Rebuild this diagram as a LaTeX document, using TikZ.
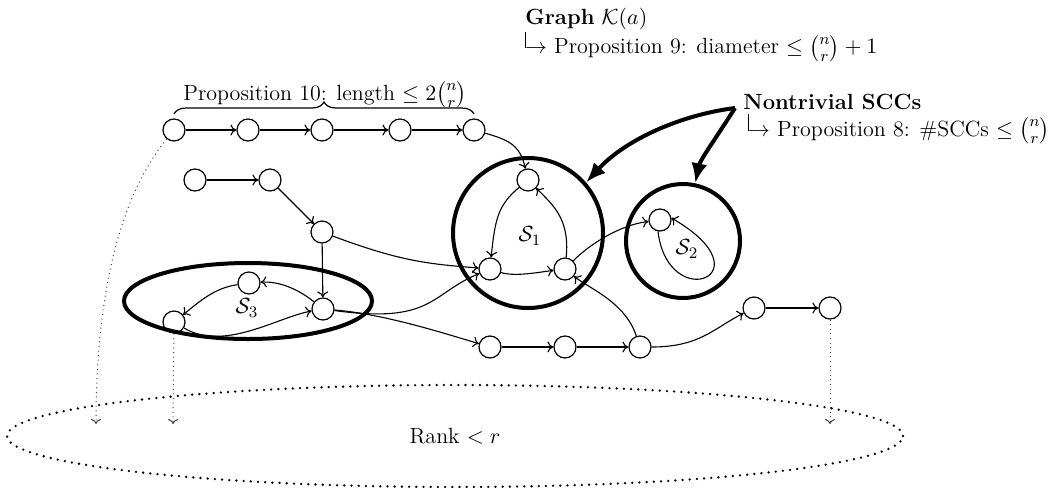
\documentclass[tikz,border=0pt]{standalone}
\usepackage{amsmath}
\usepackage{fontspec}
\usetikzlibrary{arrows.meta,decorations.pathreplacing,shapes.geometric}
\newcommand{\hk}{\rule[0.25em]{0.45pt}{0.75em}\kern-0.6pt$\rightarrow$}
\begin{document}
\begin{tikzpicture}[x=0.5pt,y=-0.5pt, font=\fontsize{11}{13}\selectfont,
 v/.style={circle,draw,line width=0.6pt,minimum size=11pt,inner sep=0pt},
 e/.style={line width=0.55pt,-{To[length=3pt,width=5.5pt]}},
 scc/.style={draw,line width=2pt,inner sep=0pt},
 proj/.style={line width=0.5pt,black!75,dash pattern=on 0.5pt off 1.8pt,-{To[length=2.5pt,width=5pt]}},
 big/.style={line width=2pt,-{Latex[length=10pt,width=8pt]}},
 txt/.style={inner sep=0pt,anchor=base west}]
\useasboundingbox (0,0) rectangle (1048,487);

% texts
\node[txt] (g) at (525,25) {\textbf{Graph} $\mathcal{K}(a)$};
\node[txt] (g2) at (525,54) {\hk\ Proposition 9: diameter $\leq\binom{n}{r}+1$};
\node[txt] (nt) at (743,109) {\textbf{Nontrivial SCCs}};
\node[txt] (nt2) at (748,136) {\hk\ Proposition 8: \#SCCs $\leq\binom{n}{r}$};
\node[inner sep=0pt,anchor=base] (p10) at (325,100) {Proposition 10: length $\leq 2\binom{n}{r}$};

% rank ellipse
\node[ellipse,draw,line width=1.3pt,dash pattern=on 0pt off 3.6pt,line cap=round,minimum width=448pt,minimum height=51pt,inner sep=0pt] (rank) at (455,436) {};
\node (rk) at (455,436) {Rank $<r$};

% SCC outlines
\node[scc,circle,minimum size=75pt] (S1) at (528,233) {};
\node[scc,circle,minimum size=57pt] (S2) at (683,241) {};
\node[scc,ellipse,minimum width=124pt,minimum height=38pt] (S3) at (248,301) {};
\node (l1) at (530,236) {$\mathcal{S}_1$};
\node (l2) at (687,249) {$\mathcal{S}_2$};
\node (l3) at (247,308) {$\mathcal{S}_3$};

% vertices
\node[v] (t1) at (174,130) {};
\node[v] (t2) at (248,130) {};
\node[v] (t3) at (322,130) {};
\node[v] (t4) at (400,130) {};
\node[v] (t5) at (474,130) {};
\node[v] (u1) at (195,180) {};
\node[v] (u2) at (270,180) {};
\node[v] (m) at (322,232) {};
\node[v] (a) at (323,309) {};
\node[v] (b) at (249,283) {};
\node[v] (c) at (174,322) {};
\node[v] (p) at (528,180) {};
\node[v] (q) at (490,269) {};
\node[v] (r) at (565,269) {};
\node[v] (s) at (660,220) {};
\node[v] (d1) at (490,347) {};
\node[v] (d2) at (565,347) {};
\node[v] (d3) at (640,347) {};
\node[v] (e1) at (754,308) {};
\node[v] (e2) at (830,308) {};

% brace
\coordinate (bl) at (174,114);
\coordinate (br) at (474,114);
\draw[line width=0.6pt,decorate,decoration={brace,amplitude=6pt}] (bl) -- (br);

% edges
\draw[e] (t1) -- (t2);
\draw[e] (t2) -- (t3);
\draw[e] (t3) -- (t4);
\draw[e] (t4) -- (t5);
\draw[e] (t5) .. controls +(35,10) and +(-8,-35) .. (p);
\draw[e] (u1) -- (u2);
\draw[e] (u2) -- (m);
\draw[e] (m) -- (a);
\draw[e] (m) .. controls +(80,30) and +(-60,-5) .. (q);
\draw[e] (a) .. controls +(-25,-20) and +(30,-2) .. (b);
\draw[e] (b) .. controls +(-35,5) and +(25,-20) .. (c);
\draw[e] (c) .. controls +(50,30) and +(-45,8) .. (a);
\draw[e] (a) .. controls +(110,15) and +(-60,25) .. (q);
\draw[e] (a) .. controls +(60,5) and +(-50,-15) .. (d1);
\draw[e] (d1) -- (d2);
\draw[e] (d2) -- (d3);
\draw[e] (d3) .. controls +(-15,-45) and +(25,20) .. (r);
\draw[e] (d3) .. controls +(60,0) and +(-40,20) .. (e1);
\draw[e] (e1) -- (e2);
\draw[e] (p) .. controls +(-30,25) and +(5,-50) .. (q);
\draw[e] (q) .. controls +(25,8) and +(-25,3) .. (r);
\draw[e] (r) .. controls +(5,-50) and +(25,25) .. (p);
\draw[e] (r) .. controls +(25,-25) and +(-40,5) .. (s);
\draw[e] (s.260) .. controls (668,315) and (770,275) .. (s.10);

% projections to rank
\coordinate (x1) at (96,424);
\coordinate (x2) at (173,424);
\coordinate (x3) at (830,424);
\draw[proj] (t1) .. controls (125,190) and (96,280) .. (x1);
\draw[proj] (c) -- (x2);
\draw[proj] (e2) -- (x3);

% big arrows
\coordinate (N) at (735,108);
\draw[big] (N) .. controls (680,115) and (625,140) .. (S1.41);
\draw[big] (N) .. controls (718,135) and (700,160) .. (S2.78);
\end{tikzpicture}
\end{document}
